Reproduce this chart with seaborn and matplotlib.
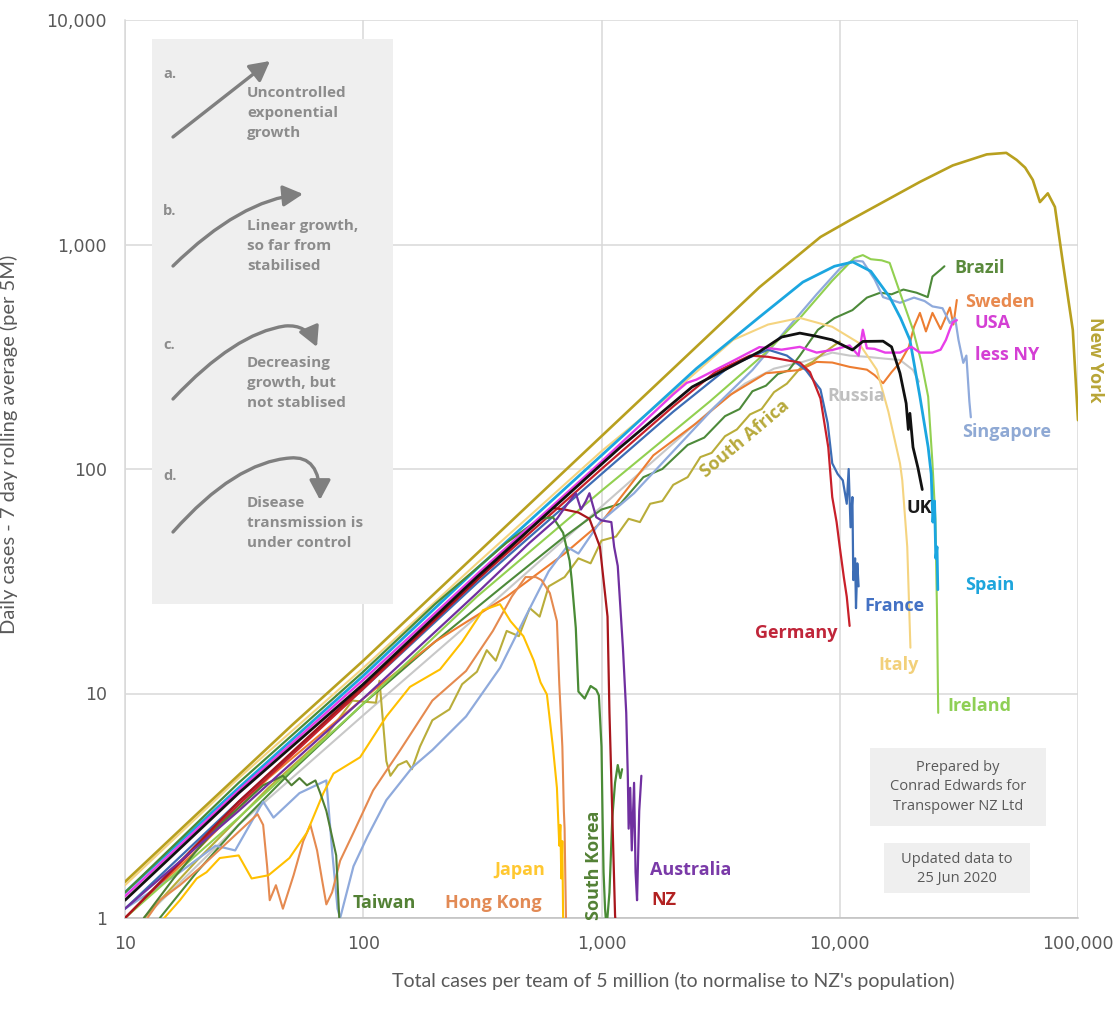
import matplotlib
matplotlib.use("Agg")
import matplotlib.pyplot as plt
from matplotlib.patches import Rectangle, FancyArrowPatch
from matplotlib.path import Path
from matplotlib.ticker import FixedLocator, FuncFormatter, NullLocator
import numpy as np
import pandas as pd
import seaborn as sns

# Total cases per 5 million (x) against 7-day rolling average of daily cases per 5 million (y)
ny_total = [10, 20, 50, 100, 200, 500, 1000, 2000, 4600, 8300, 11000, 15800, 21700, 29800, 41400,
            50000, 55300, 60000, 64600, 69200, 74700, 80000, 86400, 95100, 100000]
ny_daily = [1.45, 2.9, 7.2, 14, 28, 70, 140, 280, 645, 1080, 1280, 1580, 1900, 2250, 2520,
            2560, 2380, 2200, 1940, 1545, 1690, 1470, 830, 416, 165]

spain_total = [10, 30, 100, 300, 1000, 2500, 4600, 7000, 9500, 11350, 13500, 16200, 18000, 19700,
               21700, 23500, 24200, 24600, 25000, 25300, 25600, 25800]
spain_daily = [1.3, 3.8, 12, 36, 115, 280, 475, 680, 800, 836, 760, 583, 470, 376,
               210, 125, 95, 58, 72, 40, 45, 29]

ireland_total = [10, 30, 100, 300, 1000, 2850, 4900, 6800, 9300, 11500, 12500, 13500, 15000, 16200,
                 18000, 20300, 22000, 23500, 24500, 25200, 25600, 25900]
ireland_daily = [1.0, 2.8, 9, 27, 80, 200, 330, 470, 690, 870, 897, 860, 850, 828,
                 600, 417, 300, 210, 106, 60, 23, 8.2]

italy_total = [10, 30, 100, 300, 1000, 2000, 3570, 5000, 6800, 9300, 12000, 14300, 16000, 17900,
               18300, 19200, 19800]
italy_daily = [1.4, 4.2, 13, 38, 120, 220, 376, 440, 471, 430, 365, 277, 180, 106, 89, 45, 16]

germany_total = [10, 30, 100, 300, 1000, 2000, 3000, 4200, 5000, 6000, 6800, 7500, 8300, 8950,
                 9300, 9700, 10000, 10400, 10700, 11000]
germany_daily = [1.0, 3.2, 10.5, 32, 100, 190, 270, 320, 316, 305, 298, 270, 206, 125,
                 75, 58, 45, 33, 27, 20]

france_total = [10, 30, 100, 300, 1000, 2000, 3500, 5000, 6000, 7200, 8300, 8900, 9300, 9800,
                10300, 10700, 10900, 11100, 11300, 11400, 11600, 11700, 11850, 12000]
france_daily = [1.1, 3.3, 10.5, 31, 95, 180, 290, 340, 320, 276, 226, 160, 106, 95,
                89, 70, 100, 55, 75, 32, 40, 24, 38, 30]

uk_total = [10, 30, 100, 300, 1000, 1200, 2400, 4600, 5700, 6800, 8000, 9300, 11300, 12500,
            15200, 16500, 17900, 19000, 19400, 19700, 20300, 21300, 22200]
uk_daily = [1.2, 3.6, 11, 33, 105, 125, 232, 333, 387, 403, 390, 376, 339, 370,
            371, 350, 267, 196, 150, 177, 125, 101, 81]

usa_total = [10, 30, 100, 300, 1000, 2000, 2280, 2500, 3500, 4600, 5700, 6800, 8000, 9300,
             11000, 12000, 12500, 13000, 14000, 15500, 17900, 20000, 21700, 24500, 26500,
             27900, 29000, 29800, 31000]
usa_daily = [1.25, 3.7, 11.5, 34, 108, 215, 242, 250, 300, 349, 340, 350, 330, 339,
             355, 320, 417, 345, 343, 330, 330, 350, 330, 330, 340, 376, 420, 450, 460]

russia_total = [12, 30, 100, 300, 1000, 2000, 3000, 4000, 5300, 7000, 9300, 11000, 13000, 15500,
                17900, 20300, 21500]
russia_daily = [1.0, 2.6, 8, 22, 68, 130, 190, 240, 280, 300, 330, 320, 316, 310, 306, 276, 245]

sweden_total = [10, 20, 40, 100, 200, 400, 700, 1000, 1650, 2500, 3500, 4900, 6800, 8000, 9300,
                11000, 13000, 14000, 15200, 16500, 17900, 19500, 20500, 21700, 23000, 24500,
                26500, 29000, 30000, 31000]
sweden_daily = [1.0, 2.0, 4.2, 9.5, 17, 27, 42, 58, 115, 160, 215, 267, 276, 300, 298,
                285, 277, 262, 241, 270, 298, 350, 430, 496, 410, 496, 420, 524, 440, 566]

brazil_total = [14, 20, 30, 50, 100, 200, 400, 700, 1000, 1200, 1500, 1800, 2300, 2700, 3300,
                3800, 4300, 4900, 5500, 6100, 6800, 8100, 9500, 11300, 13000, 14800, 16500,
                18500, 21000, 23400, 24500, 26600, 27500]
brazil_daily = [1.0, 1.6, 2.6, 4.5, 9, 17, 31, 50, 66, 70, 92, 100, 128, 138, 172,
                185, 222, 235, 265, 275, 320, 417, 470, 510, 580, 610, 600,
                630, 610, 583, 720, 775, 800]

singapore_total = [10, 12.7, 17, 24, 29, 38, 42, 54, 70, 74, 78, 80, 91, 104, 125, 161, 195, 270,
                   375, 480, 600, 715, 800, 985, 1370, 2000, 3000, 4300, 6000, 8000, 10000, 11300,
                   12500, 14000, 15200, 17900, 20500, 22700, 24500, 27000, 29000, 30500, 31500,
                   33000, 34000, 35000, 35500]
singapore_daily = [1.1, 1.3, 1.6, 2.1, 2.0, 3.3, 2.8, 3.6, 4.1, 2.0, 1.1, 1.0, 1.7, 2.3, 3.35,
                   4.7, 5.6, 7.9, 13, 22, 35, 45, 42, 58, 78, 120, 190, 276, 420, 600, 780, 850,
                   840, 700, 583, 550, 580, 560, 530, 520, 447, 470, 376, 297, 320, 200, 170]

sa_total = [12, 20, 40, 70, 90, 100, 113, 117, 125, 130, 140, 152, 160, 173, 195, 230, 260, 300,
            330, 360, 400, 450, 500, 550, 600, 700, 800, 900, 1000, 1150, 1300, 1450, 1600, 1800,
            2000, 2300, 2600, 2900, 3300, 3700, 4200, 4700, 5300, 6000, 6800, 7700, 8600, 10000]
sa_daily = [1.0, 1.8, 3.8, 6.5, 9.3, 9.2, 9.1, 11.4, 5.0, 4.3, 4.8, 5.0, 4.6, 5.8, 7.6, 8.5, 11,
            12.5, 15.6, 14, 19, 18, 24, 22, 30, 33, 40, 38, 48, 50, 60, 58, 70, 72,
            85, 92, 113, 118, 140, 150, 175, 185, 220, 240, 280, 300, 330, 370]

taiwan_total = [12, 16, 20, 25, 30, 38, 46, 50, 54, 58, 63, 66, 70, 74, 77, 79.5]
taiwan_daily = [1.0, 1.5, 2.0, 2.6, 3.1, 3.9, 4.3, 3.9, 4.2, 3.9, 4.1, 3.6, 3.0, 2.3, 1.9, 0.95]

hk_total = [12, 14, 17, 21, 26, 31, 36, 38, 39.5, 40.5, 43, 46, 51, 56, 60, 64, 67, 70, 74, 80,
            91, 110, 143, 195, 270, 350, 420, 480, 530, 560, 607, 650, 665, 685, 695, 700, 705, 710]
hk_daily = [0.95, 1.2, 1.4, 1.7, 2.1, 2.5, 2.9, 2.6, 1.7, 1.2, 1.4, 1.1, 1.55, 2.2, 2.6, 2.0, 1.5,
            1.15, 1.3, 1.8, 2.4, 3.7, 5.6, 9.3, 12.6, 19, 27, 33, 33, 32, 28, 21, 11, 5.8, 3.0,
            2.5, 1.5, 0.95]

japan_total = [14, 17, 20, 22, 25, 30, 34, 40, 49, 58, 68, 75, 97, 125, 157, 210, 260, 318, 375,
               415, 470, 520, 555, 590, 625, 650, 665, 672, 678, 685, 690]
japan_daily = [0.95, 1.2, 1.5, 1.6, 1.85, 1.9, 1.5, 1.55, 1.85, 2.4, 3.6, 4.4, 5.2, 7.9, 10.7,
               12.8, 17, 23.5, 25, 21, 18, 14, 11.2, 9.9, 5.8, 3.8, 2.1, 2.6, 1.5, 2.2, 1.0]

sk_total = [10, 30, 100, 200, 400, 550, 625, 690, 735, 750, 780, 800, 850, 900, 950, 975, 1000,
            1010, 1020, 1035, 1050, 1080, 1110, 1140, 1170, 1200, 1220]
sk_daily = [1.3, 4.0, 12.5, 25, 47, 60, 61, 52, 39, 32, 19.6, 10.2, 9.5, 10.8, 10.4, 9.8, 5.8,
            2.9, 1.6, 1.1, 0.9, 1.3, 2.8, 4.0, 4.8, 4.2, 4.6]

nz_total = [10, 30, 100, 300, 500, 600, 625, 700, 800, 890, 985, 1060, 1080, 1110, 1140, 1160]
nz_daily = [1.0, 3.3, 10.8, 32, 54, 64, 67, 66, 64, 60, 45, 22, 8.2, 2.9, 1.03, 0.8]

aus_total = [10, 30, 100, 300, 500, 650, 720, 780, 820, 860, 890, 950, 1000, 1100, 1130, 1170,
             1230, 1270, 1290, 1300, 1320, 1340, 1370, 1390, 1410, 1440, 1470]
aus_daily = [1.1, 3.0, 9.5, 28, 47, 60, 70, 78, 66, 72, 78, 61, 59, 58, 45, 37, 16, 8.2, 4.2,
             2.5, 3.8, 2.0, 4.0, 1.6, 1.2, 3.0, 4.3]

# drawing order (first = bottom), colour, line width
series = [
    ("Russia", russia_total, russia_daily, "#c8c8c8", 1.5),
    ("South Africa", sa_total, sa_daily, "#b9ad3a", 1.5),
    ("Brazil", brazil_total, brazil_daily, "#4d8a3a", 1.5),
    ("Sweden", sweden_total, sweden_daily, "#ed7d31", 1.5),
    ("Singapore", singapore_total, singapore_daily, "#8faadc", 1.6),
    ("Ireland", ireland_total, ireland_daily, "#92d050", 1.5),
    ("Italy", italy_total, italy_daily, "#f5d480", 1.5),
    ("Spain", spain_total, spain_daily, "#1ba6e0", 2.0),
    ("France", france_total, france_daily, "#3d6db5", 1.6),
    ("Germany", germany_total, germany_daily, "#c8202a", 1.6),
    ("Hong Kong", hk_total, hk_daily, "#e58a50", 1.5),
    ("Japan", japan_total, japan_daily, "#ffc000", 1.5),
    ("Taiwan", taiwan_total, taiwan_daily, "#4f7f34", 1.5),
    ("South Korea", sk_total, sk_daily, "#4a8b36", 1.6),
    ("NZ", nz_total, nz_daily, "#a8161c", 1.6),
    ("Australia", aus_total, aus_daily, "#7030a0", 1.6),
    ("USA less NY", usa_total, usa_daily, "#e83ee8", 1.7),
    ("UK", uk_total, uk_daily, "#111111", 2.0),
    ("New York", ny_total, ny_daily, "#b8a01f", 1.9),
]

frames = []
for name, tot, daily, _, _ in series:
    frames.append(pd.DataFrame({"country": name, "total": tot, "daily": daily,
                                "step": np.arange(len(tot))}))
df = pd.concat(frames, ignore_index=True)

sns.set_style("white")
plt.rcParams["font.family"] = ["DejaVu Sans"]

W, H = 1119, 1010
fig = plt.figure(figsize=(W / 100, H / 100), dpi=100)
ax = fig.add_axes([125 / W, 1 - 918 / H, (1078 - 125) / W, (918 - 20) / H])

for name, _, _, color, lw in series:
    sub = df[df["country"] == name]
    sns.lineplot(data=sub, x="total", y="daily", sort=False, estimator=None,
                 color=color, lw=lw, ax=ax, legend=False, zorder=3)

ax.set_xscale("log")
ax.set_yscale("log")
ax.set_xlim(10, 100000)
ax.set_ylim(1, 10000)

fmt = FuncFormatter(lambda v, _: f"{v:,.0f}")
ax.xaxis.set_major_locator(FixedLocator([10, 100, 1000, 10000, 100000]))
ax.yaxis.set_major_locator(FixedLocator([1, 10, 100, 1000, 10000]))
ax.xaxis.set_minor_locator(NullLocator())
ax.yaxis.set_minor_locator(NullLocator())
ax.xaxis.set_major_formatter(fmt)
ax.yaxis.set_major_formatter(fmt)
ax.tick_params(axis="both", length=0, labelsize=12.5, labelcolor="#595959")
ax.tick_params(axis="x", pad=12)
ax.tick_params(axis="y", pad=13)
ax.grid(True, which="major", color="#d9d9d9", lw=1.1, zorder=0)
ax.set_axisbelow(True)
for side in ["top", "right"]:
    ax.spines[side].set_visible(False)
ax.spines["left"].set_color("#d9d9d9")
ax.spines["bottom"].set_color("#bfbfbf")
ax.spines["left"].set_linewidth(1.1)
ax.spines["bottom"].set_linewidth(1.1)

ax.set_xlabel("Total cases per team of 5 million (to normalise to NZ's population)",
              fontsize=14, color="#595959", family="Lato")
ax.set_ylabel("Daily cases - 7 day rolling average (per 5M)",
              fontsize=14.5, color="#595959", family="Lato")
ax.xaxis.set_label_coords(0.575, -0.060)
ax.yaxis.set_label_coords(-0.112, 0.527)

# country labels
lab = dict(family="Open Sans", fontweight="bold", fontsize=13)
labels = [
    ("Brazil", 30400, 785, "#5a8a3c", "left", 0),
    ("Sweden", 33500, 555, "#e8894e", "left", 0),
    ("USA", 36900, 447, "#d43fd4", "left", 0),
    ("less NY", 36900, 322, "#d43fd4", "left", 0),
    ("Russia", 8900, 211, "#bfbfbf", "left", 0),
    ("Singapore", 32500, 146, "#8fa9d4", "left", 0),
    ("UK", 19000, 67, "#1a1a1a", "left", 0),
    ("Spain", 33500, 30.4, "#1ea5dc", "left", 0),
    ("France", 12700, 24.5, "#4472c4", "left", 0),
    ("Germany", 4400, 18.6, "#c0263a", "left", 0),
    ("Italy", 14500, 13.4, "#f2d07a", "left", 0),
    ("Ireland", 28200, 8.8, "#8fcf55", "left", 0),
    ("Taiwan", 90, 1.17, "#538135", "left", 0),
    ("Hong Kong", 220, 1.17, "#e28a55", "left", 0),
    ("Japan", 579, 1.64, "#ffc831", "right", 0),
    ("Australia", 1600, 1.64, "#7a3aa8", "left", 0),
    ("NZ", 1620, 1.2, "#b22222", "left", 0),
]
for text, x, y, c, ha, rot in labels:
    ax.text(x, y, text, color=c, ha=ha, va="center", rotation=rot, zorder=5, **lab)
ax.text(929, 1.72, "South Korea", color="#538135", ha="center", va="center",
        rotation=90, zorder=5, **lab)
ax.text(4000, 137, "South Africa", color="#b7a93b", ha="center", va="center",
        rotation=40, zorder=5, **lab)
ax.text(118000, 306, "New York", color="#b8a537", ha="center", va="center",
        rotation=-90, zorder=5, clip_on=False, **lab)

# overlay in pixel space for the explanatory panels
ov = fig.add_axes([0, 0, 1, 1], zorder=10)
ov.set_xlim(0, W)
ov.set_ylim(H, 0)
ov.axis("off")
ov.patch.set_alpha(0)

ov.add_patch(Rectangle((152, 39), 241, 565, facecolor="#efefef", edgecolor="none"))
ov.add_patch(Rectangle((870, 748), 176, 78, facecolor="#efefef", edgecolor="none"))
ov.add_patch(Rectangle((884, 843), 146, 50, facecolor="#efefef", edgecolor="none"))

grey = "#8c8c8c"
arrow_kw = dict(arrowstyle="-|>,head_length=0.6,head_width=0.32", mutation_scale=20,
                color="#7f7f7f", lw=2.4, shrinkA=0, shrinkB=0)
M, L, C3 = Path.MOVETO, Path.LINETO, Path.CURVE3
paths = [
    Path([(173, 137), (270, 61)], [M, L]),
    Path([(173, 266), (240, 200), (303, 194)], [M, C3, C3]),
    Path([(173, 399), (235, 333), (285, 326), (307, 324), (317, 347)], [M, C3, C3, C3, C3]),
    Path([(173, 532), (235, 462), (290, 458), (320, 455), (320, 500)], [M, C3, C3, C3, C3]),
]
for p in paths:
    ov.add_patch(FancyArrowPatch(path=p, **arrow_kw))

tk = dict(family="Open Sans", fontweight="bold", fontsize=11, color=grey, va="top", ha="left",
          linespacing=1.55)
for letter, ly in [("a.", 74), ("b.", 211), ("c.", 345), ("d.", 476)]:
    ov.text(163, ly, letter, family="Open Sans", fontweight="bold", fontsize=10.5,
            color=grey, ha="left", va="center")
ov.text(247, 86, "Uncontrolled\nexponential\ngrowth", **tk)
ov.text(247, 219, "Linear growth,\nso far from\nstabilised", **tk)
ov.text(247, 356, "Decreasing\ngrowth, but\nnot stablised", **tk)
ov.text(247, 496, "Disease\ntransmission is\nunder control", **tk)

nk = dict(family="Open Sans", fontsize=10.5, color="#595959", ha="center", va="center",
          linespacing=1.45)
ov.text(958, 787, "Prepared by\nConrad Edwards for\nTranspower NZ Ltd", **nk)
ov.text(957, 869, "Updated data to\n25 Jun 2020", **nk)

fig.savefig("out.png", dpi=100, facecolor="white")
